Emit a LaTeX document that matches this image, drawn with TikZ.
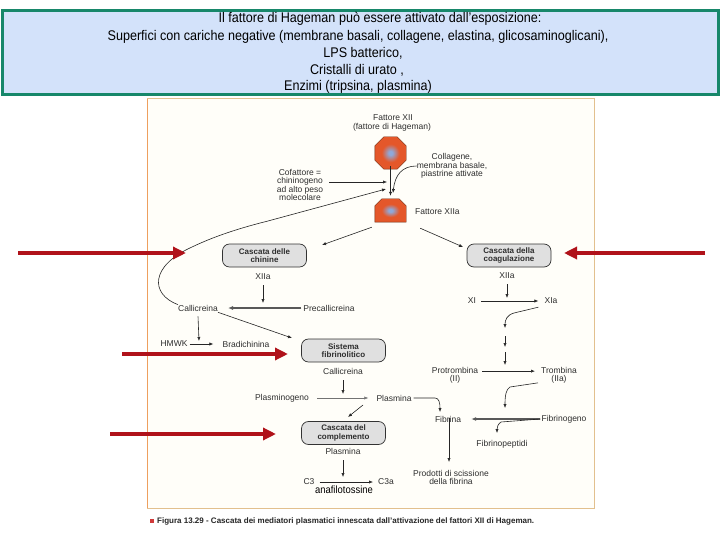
\documentclass[tikz,border=0pt]{standalone}
\usepackage{fontspec}
\setmainfont{Liberation Sans}
\newfontfamily\headfont[FakeStretch=0.9]{Liberation Sans}
\usetikzlibrary{arrows.meta,calc}
\definecolor{hdrfill}{HTML}{D3E2FA}
\definecolor{hdrline}{HTML}{17876A}
\definecolor{frameline}{HTML}{E2C08E}
\definecolor{frameleft}{HTML}{EE9F5E}
\definecolor{figfill}{HTML}{FFFEF9}
\definecolor{redarrow}{HTML}{B0121A}
\definecolor{octorange}{HTML}{E4572A}
\definecolor{octblue}{HTML}{8FA9DA}
\definecolor{octline}{HTML}{6B2A12}
\definecolor{txt}{HTML}{2E2E2E}
\definecolor{boxfill}{HTML}{E0E0E0}
\definecolor{capred}{HTML}{D03A3A}
\pgfdeclareradialshading{octshade}{\pgfpoint{0bp}{0bp}}{color(0bp)=(octblue); color(3bp)=(octblue); color(14bp)=(octorange); color(50bp)=(octorange)}
\tikzset{
  hdr/.style={font=\headfont\fontsize{14}{15}\selectfont, text=black, inner sep=0pt},
  lbl/.style={font=\fontsize{8.5}{8.4}\selectfont, text=txt, inner sep=0pt, align=center},
  cbox/.style={draw=black!80, fill=boxfill, line width=0.7pt, rounded corners=7pt,
    minimum width=84pt, minimum height=23pt, inner sep=0pt, align=center,
    font=\bfseries\fontsize{8}{8.6}\selectfont, text=txt},
  arr/.style={-{Latex[length=4pt,width=3.2pt]}, line width=0.6pt, draw=black!85},
  grayarr/.style={-{Latex[length=5pt,width=4pt]}, line width=1.5pt, draw=black!65},
  thinarr/.style={-{Latex[length=4pt,width=3.2pt]}, line width=0.5pt, draw=black!55},
  redarr/.style={-{Triangle[length=13pt,width=12pt]}, line width=4pt, draw=redarrow},
  slot/.style={rectangle, inner sep=0pt},
  octfill/.style={shading=octshade, draw=octline, line width=0.4pt},
}
\begin{document}
\begin{tikzpicture}[x=1pt,y=-1pt]
\useasboundingbox (0,0) rectangle (720,540);
\fill[white] (0,0) rectangle (720,540);
% header
\draw[hdrline, line width=3pt, fill=hdrfill] (2,11) rectangle (718,95);
\node[hdr] (h1) at (380,19) {Il fattore di Hageman può essere attivato dall’esposizione:};
\node[hdr] (h2) at (358,37) {Superfici con cariche negative (membrane basali, collagene, elastina, glicosaminoglicani),};
\node[hdr] (h3) at (363,53) {LPS batterico,};
\node[hdr] (h4) at (357,70) {Cristalli di urato ,};
\node[hdr] (h5) at (358,87) {Enzimi (tripsina, plasmina)};
% figure frame
\draw[frameline, line width=1pt, fill=figfill] (147,99) rectangle (594,508);
\draw[frameleft, line width=1pt] (147,99) -- (147,508);
% factor XII
\node[lbl] (f12) at (393,118) {Fattore XII};
\node[lbl] (f12b) at (392,127) {(fattore di Hageman)};
\node[slot, minimum width=31pt, minimum height=32pt] (oct1) at (390.5,153) {};
\shade[octfill]
  ($(oct1.north west)+(9,0)$) -- ($(oct1.north east)+(-9,0)$) -- ($(oct1.north east)+(0,9)$)
  -- ($(oct1.south east)+(0,-9)$) -- ($(oct1.south east)+(-9,0)$) -- ($(oct1.south west)+(9,0)$)
  -- ($(oct1.south west)+(0,-9)$) -- ($(oct1.north west)+(0,9)$) -- cycle;
\node[slot, minimum width=31pt, minimum height=23pt] (oct2) at (390.5,210.5) {};
\shade[octfill]
  (oct2.south west) -- ($(oct2.north west)+(0,7)$) -- ($(oct2.north west)+(7,0)$)
  -- ($(oct2.north east)+(-7,0)$) -- ($(oct2.north east)+(0,7)$) -- (oct2.south east) -- cycle;
\node[lbl, anchor=west] (f12a) at (415,212) {Fattore XIIa};
\node[lbl] (coll) at (452,166) {Collagene,\\membrana basale,\\piastrine attivate};
\node[lbl] (cof) at (300,185) {Cofattore =\\chininogeno\\ad alto peso\\molecolare};
\coordinate (jcoll) at (393,193);
\coordinate (jcof) at (387,182);
\coordinate (jcurve) at (386,189);
\draw[arr] ([yshift=3pt]oct1.south) -- ([yshift=3pt]oct2.north);
\draw[arr] (coll.west) .. controls (402,166) and (395,175) .. (jcoll);
\draw[arr] ($(cof.east)+(6,-3)$) -- (jcof);
% cascades
\node[cbox] (chin) at (264.5,255.5) {Cascata delle\\chinine};
\node[cbox] (coag) at (509,255.5) {Cascata della\\coagulazione};
\coordinate (jchin) at (322,245);
\coordinate (jcoag) at (463,247);
\draw[arr] ($(oct2.south west)+(-3,5)$) -- (jchin);
\draw[arr] ($(oct2.south east)+(14,6)$) -- (jcoag);
% kinin branch
\node[lbl] (xiia1) at (263,277) {XIIa};
\node[lbl] (call) at (198,308) {Callicreina};
\node[lbl] (precall) at (329,308) {Precallicreina};
\coordinate (jxiia1) at (263,303);
\draw[arr] (xiia1.south) ++(0,5) -- (jxiia1);
\draw[grayarr] ([xshift=-2pt]precall.west) -- ([xshift=10pt]call.east);
\draw[arr] (call.north west) .. controls (150,294) and (150,266) .. (192,247)
  .. controls (215,236) and (240,228) .. (268,221) -- (jcurve);
\node[lbl] (hmwk) at (174,344) {HMWK};
\node[lbl] (brad) at (246,344) {Bradichinina};
\coordinate (jcall) at (199,341);
\draw[arr] (call.south) ++(0,5) -- (jcall);
\draw[arr] ([xshift=2pt]hmwk.east) -- ([xshift=-9pt]brad.west);
\coordinate (jsist) at (292,338);
\draw[arr] ($(call.south east)+(0,1)$) -- (jsist);
% fibrinolytic
\node[cbox] (sist) at (343.5,350.5) {Sistema\\fibrinolitico};
\node[lbl] (call2) at (343,371) {Callicreina};
\coordinate (jcall2) at (343,394);
\draw[arr] (call2.south) ++(0,6) -- (jcall2);
\node[lbl] (plg) at (282,398) {Plasminogeno};
\node[lbl] (plm1) at (394,398) {Plasmina};
\draw[thinarr] ([xshift=8pt]plg.east) -- ([xshift=-8pt]plm1.west);
\coordinate (jplm1a) at (363,405);
\coordinate (jplm1b) at (348,417);
\draw[arr] (jplm1a) -- (jplm1b);
\node[cbox] (compl) at (343.5,433) {Cascata del\\complemento};
\node[lbl] (plm2) at (343,451) {Plasmina};
\coordinate (jplm2) at (343,477);
\draw[arr] (plm2.south) ++(0,6) -- (jplm2);
\node[lbl] (c3) at (309,482) {C3};
\node[lbl] (c3a) at (386,482) {C3a};
\draw[arr] ([xshift=5pt]c3.east) -- ([xshift=-5pt]c3a.west);
\node[font=\headfont\fontsize{10.5}{11}\selectfont, text=black, inner sep=0pt] (anaf) at (344,490) {anafilotossine};
% coagulation branch
\node[lbl] (xiia2) at (507,276) {XIIa};
\node[lbl] (xi) at (472,301) {XI};
\node[lbl] (xia) at (551,301) {XIa};
\coordinate (jxiia2) at (507,298);
\draw[arr] (xiia2.south) ++(0,5) -- (jxiia2);
\draw[arr] ([xshift=5pt]xi.east) -- ([xshift=-6pt]xia.west);
\coordinate (jxia) at (505,328);
\draw[arr] ($(xia.south west)+(-6,3)$) -- (514,313) .. controls (507,315) and (505,320) .. (jxia);
\coordinate (ja1) at (505,336); \coordinate (ja2) at (505,347);
\coordinate (ja3) at (505,352); \coordinate (ja4) at (505,365);
\draw[arr] (ja1) -- (ja2);
\draw[arr] (ja3) -- (ja4);
\node[lbl] (prot) at (455,375.5) {Protrombina\\(II)};
\node[lbl] (tromb) at (559,375.5) {Trombina\\(IIa)};
\draw[arr] ($(prot.north east)+(4,4)$) -- ($(tromb.north west)+(-6,4)$);
\coordinate (jtromb) at (505,408);
\draw[arr] ($(tromb.south west)+(-3,-1)$) -- (510,387) .. controls (506,389) and (505,396) .. (jtromb);
\node[lbl] (fbg) at (564,419) {Fibrinogeno};
\node[lbl] (fib) at (448,419) {Fibrina};
\draw[grayarr] ([xshift=-1pt]fbg.west) -- ([xshift=10pt]fib.east);
\node[lbl] (fpep) at (502,444) {Fibrinopeptidi};
\coordinate (jfpep) at (497,433);
\draw[arr] ([xshift=-1pt]fbg.west) -- (501,422) .. controls (498,424) and (497,427) .. (jfpep);
\coordinate (jfib) at (440,412);
\draw[arr] ([xshift=2pt]plm1.east) -- (435,398) .. controls (439,398) and (440,403) .. (jfib);
\node[lbl] (prod) at (451,477.5) {Prodotti di scissione\\della fibrina};
\coordinate (jprod) at (449,462);
\draw[arr] ([xshift=1pt, yshift=4pt]fib.south) -- (jprod);
% red arrows
\coordinate (r1a) at (18,253); \coordinate (r1b) at (186,253);
\coordinate (r2a) at (705,253); \coordinate (r2b) at (564,253);
\coordinate (r3a) at (122,354); \coordinate (r3b) at (288,354);
\coordinate (r4a) at (110,434); \coordinate (r4b) at (276,434);
\draw[redarr] (r1a) -- (r1b);
\draw[redarr] (r2a) -- (r2b);
\draw[redarr] (r3a) -- (r3b);
\draw[redarr] (r4a) -- (r4b);
% caption
\node[fill=capred, minimum size=4pt, inner sep=0pt] (capsq) at (151.5,520.5) {};
\node[anchor=west, inner sep=0pt, font=\bfseries\fontsize{8}{9}\selectfont, text=black!85] (cap) at (157,521) {Figura 13.29 - Cascata dei mediatori plasmatici innescata dall’attivazione del fattori XII di Hageman.};
\end{tikzpicture}
\end{document}
